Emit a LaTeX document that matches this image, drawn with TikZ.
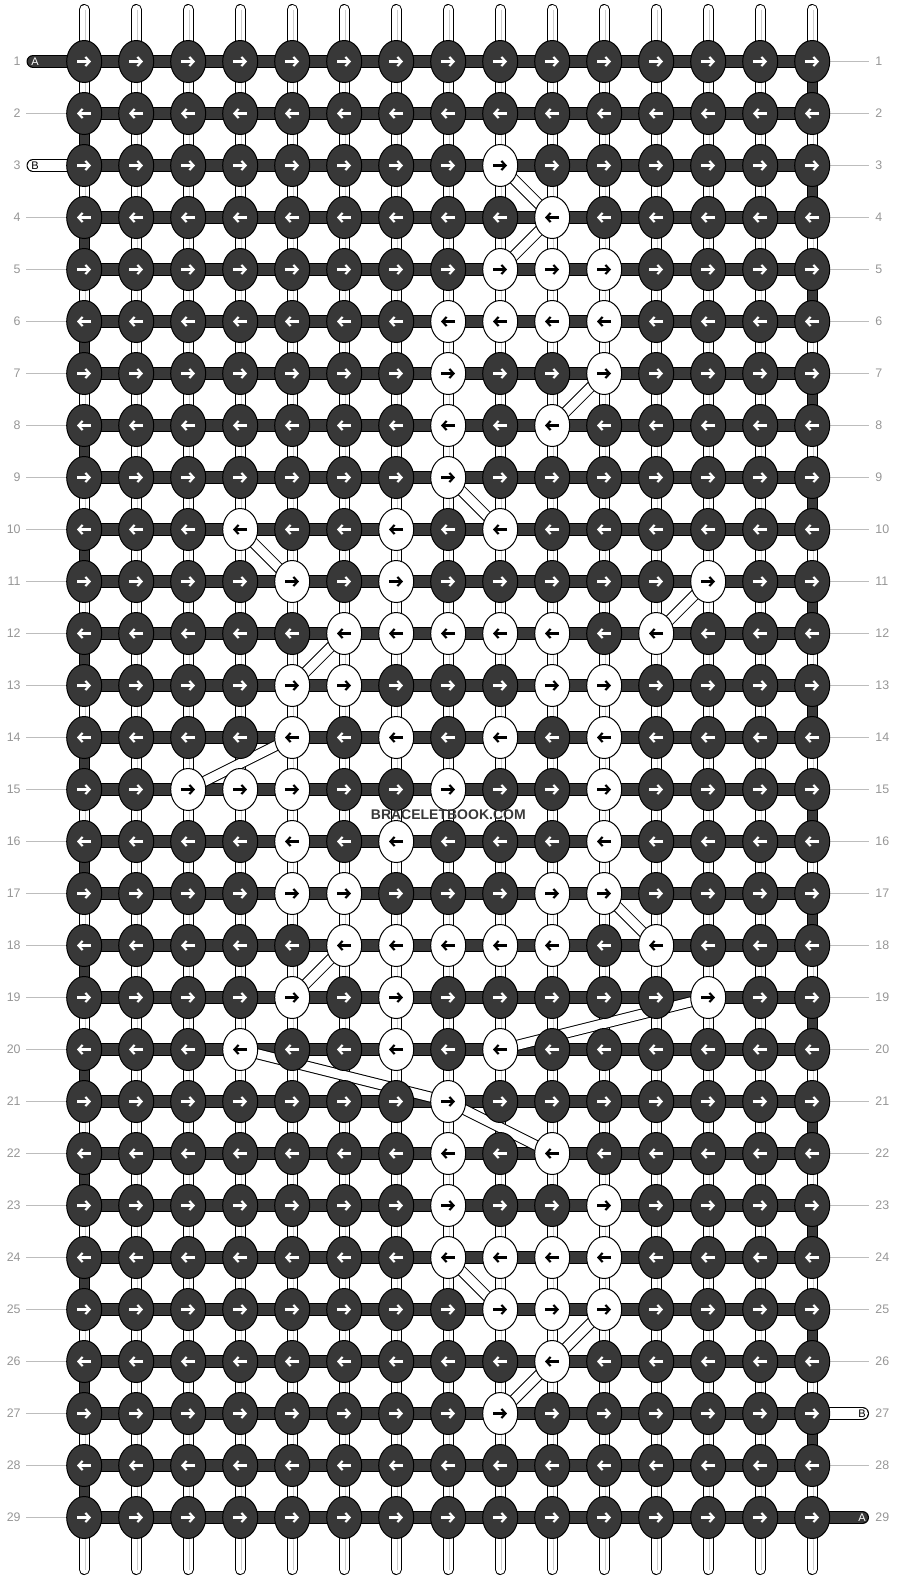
\documentclass[tikz,border=0pt]{standalone}
\usepackage{fontspec}
\setmainfont{Liberation Sans}
\usetikzlibrary{arrows.meta,shapes.geometric}
\pgfdeclarelayer{strings}
\pgfdeclarelayer{btubes}
\pgfsetlayers{strings,btubes,main}
\definecolor{knotdark}{HTML}{383838}
\definecolor{rulegray}{HTML}{BDBDBD}
\definecolor{numgray}{HTML}{969696}
\definecolor{stripe}{HTML}{CCCCCC}
\begin{document}
\begin{tikzpicture}[x=0.5pt,y=-0.5pt,
  darkknot/.style={ellipse,draw=black,line width=0.5pt,fill=knotdark,
    minimum width=17.5pt,minimum height=21pt,inner sep=0pt},
  lightknot/.style={darkknot,fill=white},
  knotarrow/.style={line width=1.05pt,-{Straight Barb[length=2.1pt,width=4.6pt]}},
  rowlabel/.style={text=numgray,font=\fontsize{6.2}{7}\selectfont,inner sep=0pt},
  endlabel/.style={font=\fontsize{5.5}{6}\selectfont,inner sep=0pt},
  guide/.style={draw=rulegray,line width=0.5pt},
  warpout/.style={line width=5.5pt,black},
  warpin/.style={line width=4.5pt,white},
  barout/.style={line width=6.5pt,black},
  barin/.style={line width=5.5pt,knotdark},
  btube/.style={draw=black,line width=0.5pt,double=white,double distance=4.5pt}]
\useasboundingbox (0,0) rectangle (896,1580);
% knots worked with the B string
\foreach \k in {3-9,4-10,5-9,5-10,5-11,6-8,6-9,6-10,6-11,7-8,7-11,8-8,8-10,9-8,
  10-4,10-7,10-9,11-5,11-7,11-13,12-6,12-7,12-8,12-9,12-10,12-12,
  13-5,13-6,13-10,13-11,14-5,14-7,14-9,14-11,15-3,15-4,15-5,15-8,15-11,
  16-5,16-7,16-11,17-5,17-6,17-10,17-11,18-6,18-7,18-8,18-9,18-10,18-12,
  19-5,19-7,19-13,20-4,20-7,20-9,21-8,22-8,22-10,23-8,23-11,
  24-8,24-9,24-10,24-11,25-9,25-10,25-11,26-10,27-9}
  {\expandafter\gdef\csname wk-\k\endcsname{}}
\foreach \r in {1,...,29}{
  \foreach \c in {1,...,15}{
    \coordinate (p-\r-\c) at ({84.2+52*(\c-1)},{61.5+52*(\r-1)});
  }
}
\begin{pgfonlayer}{strings}
  \foreach \c in {1,...,15}{
    \draw[warpout,line cap=round] ({84.2+52*(\c-1)},9.5) -- ({84.2+52*(\c-1)},1569.5);
    \draw[warpin,line cap=round] ({84.2+52*(\c-1)},9.5) -- ({84.2+52*(\c-1)},1569.5);
    \draw[stripe,line width=0.9pt] ({85.4+52*(\c-1)},9.5) -- ({85.4+52*(\c-1)},1569.5);
  }
  \foreach \r [evaluate=\r as \n using int(\r+1)] in {2,4,...,28}{
    \draw[warpout] (p-\r-1) -- (p-\n-1);
    \draw[warpin,knotdark] (p-\r-1) -- (p-\n-1);
  }
  \foreach \r [evaluate=\r as \n using int(\r+1)] in {1,3,...,27}{
    \draw[warpout] (p-\r-15) -- (p-\n-15);
    \draw[warpin,knotdark] (p-\r-15) -- (p-\n-15);
  }
  \foreach \r in {1,...,29}{
    \draw[barout] (p-\r-1) -- (p-\r-15);
    \draw[barin] (p-\r-1) -- (p-\r-15);
    \node[rowlabel,anchor=east] (ll-\r) at (21,{61.5+52*(\r-1)}) {\r};
    \node[rowlabel,anchor=west] (rl-\r) at (875,{61.5+52*(\r-1)}) {\r};
  }
  \foreach \r in {2,4,5,...,29}{
    \draw[guide] (26,{61.5+52*(\r-1)}) -- (p-\r-1);
  }
  \foreach \r in {1,...,26,28}{
    \draw[guide] (p-\r-15) -- (869,{61.5+52*(\r-1)});
  }
  \coordinate (endA) at (33,61.5);
  \coordinate (endB) at (33,165.5);
  \coordinate (endB2) at (862.5,1413.5);
  \coordinate (endA2) at (862.5,1517.5);
  \draw[barout,line cap=round] (endA) -- (p-1-1);
  \draw[barin,line cap=round] (endA) -- (p-1-1);
  \draw[barout,line cap=round] (endB) -- (p-3-1);
  \draw[barin,white,line cap=round] (endB) -- (p-3-1);
  \draw[barout,line cap=round] (endB2) -- (p-27-15);
  \draw[barin,white,line cap=round] (endB2) -- (p-27-15);
  \draw[barout,line cap=round] (endA2) -- (p-29-15);
  \draw[barin,line cap=round] (endA2) -- (p-29-15);
  \node[endlabel,text=white] (tagA) at (35,61.5) {A};
  \node[endlabel] (tagB) at (35,165.5) {B};
  \node[endlabel] (tagB2) at (862,1413.5) {B};
  \node[endlabel,text=white] (tagA2) at (862,1517.5) {A};
\end{pgfonlayer}
\foreach \r in {1,...,29}{
  \foreach \c in {1,...,15}{
    \ifcsname wk-\r-\c\endcsname
      \node[lightknot] (k-\r-\c) at (p-\r-\c) {};
      \def\acol{black}
    \else
      \node[darkknot] (k-\r-\c) at (p-\r-\c) {};
      \def\acol{white}
    \fi
    \ifodd\r\relax
      \draw[knotarrow,\acol] ([xshift=-3.6pt]k-\r-\c.center) -- ([xshift=3.4pt]k-\r-\c.center);
    \else
      \draw[knotarrow,\acol] ([xshift=3.4pt]k-\r-\c.center) -- ([xshift=-3.6pt]k-\r-\c.center);
    \fi
  }
}
\begin{pgfonlayer}{btubes}
  \foreach \a/\b in {3-9/4-10,4-10/5-9,7-11/8-10,9-8/10-9,10-4/11-5,11-13/12-12,
    12-6/13-5,14-5/15-3,17-11/18-12,18-6/19-5,19-13/20-9,20-4/21-8,21-8/22-10,
    24-8/25-9,25-11/26-10,26-10/27-9}
    \draw[btube] (k-\a.center) -- (k-\b.center);
\end{pgfonlayer}
\node[font=\bfseries\fontsize{7}{8}\selectfont,text=knotdark] (mark) at (448.3,815) {BRACELETBOOK.COM};
\end{tikzpicture}
\end{document}
